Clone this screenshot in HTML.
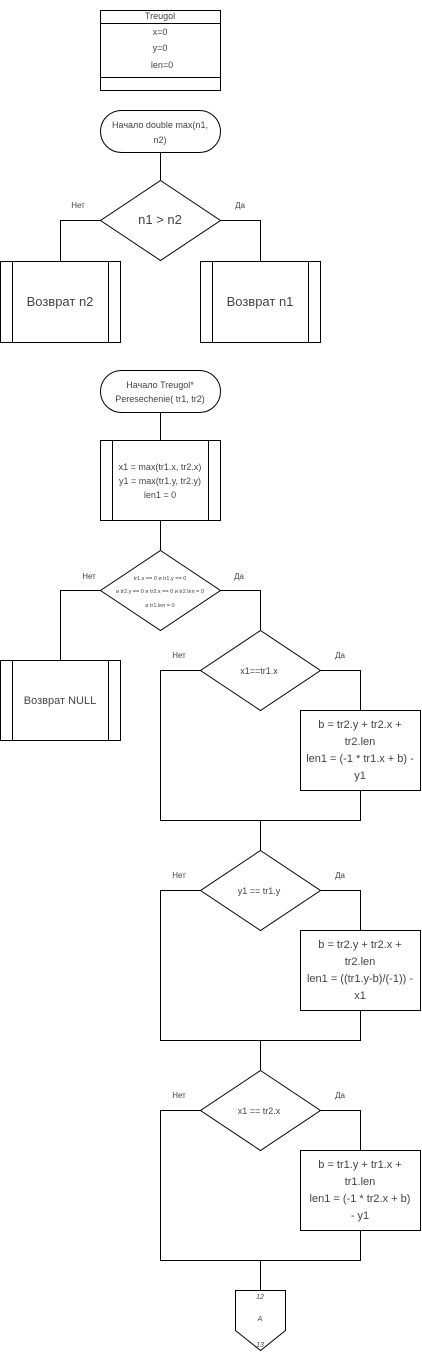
<!DOCTYPE html>
<html><head><meta charset="utf-8"><style>
html,body{margin:0;padding:0;background:#fff;}
svg{display:block;}
text{font-family:"Liberation Sans",sans-serif;fill:#444;text-anchor:middle;}
</style></head><body>
<svg width="422" height="1362" viewBox="0 0 422 1362" xmlns="http://www.w3.org/2000/svg">
<g fill="none" stroke="#000" stroke-width="1">
<!-- Treugol class -->
<rect x="100.5" y="10.5" width="120" height="80"/>
<line x1="100" y1="23.5" x2="220" y2="23.5"/>
<line x1="100" y1="77.5" x2="220" y2="77.5"/>
<!-- terminator 1 -->
<rect x="100.5" y="110.5" width="120" height="42" rx="21"/>
<line x1="160.5" y1="153" x2="160.5" y2="180"/>
<polygon points="160.5,180.5 220.5,220.5 160.5,260.5 100.5,220.5"/>
<polyline points="100.5,220.5 60.5,220.5 60.5,261"/>
<polyline points="220.5,220.5 260.5,220.5 260.5,261"/>
<rect x="0.5" y="261.5" width="120" height="81"/>
<line x1="12.5" y1="261" x2="12.5" y2="342"/><line x1="108.5" y1="261" x2="108.5" y2="342"/>
<rect x="200.5" y="261.5" width="120" height="81"/>
<line x1="212.5" y1="261" x2="212.5" y2="342"/><line x1="308.5" y1="261" x2="308.5" y2="342"/>
<!-- terminator 2 -->
<rect x="100.5" y="370.5" width="120" height="42" rx="21"/>
<line x1="160.5" y1="413" x2="160.5" y2="440"/>
<rect x="100.5" y="440.5" width="120" height="80"/>
<line x1="112.5" y1="440" x2="112.5" y2="520"/><line x1="208.5" y1="440" x2="208.5" y2="520"/>
<line x1="160.5" y1="521" x2="160.5" y2="550"/>
<polygon points="160.5,550.5 220.5,590.5 160.5,630.5 100.5,590.5"/>
<polyline points="100.5,590.5 60.5,590.5 60.5,660"/>
<polyline points="220.5,590.5 260.5,590.5 260.5,630"/>
<rect x="0.5" y="660.5" width="120" height="80"/>
<line x1="12.5" y1="660" x2="12.5" y2="740"/><line x1="108.5" y1="660" x2="108.5" y2="740"/>
<!-- diamond 3 -->
<polygon points="260.5,630.5 320.5,670.5 260.5,710.5 200.5,670.5"/>
<polyline points="200.5,670.5 160.5,670.5 160.5,820.5 360.5,820.5 360.5,790"/>
<polyline points="320.5,670.5 360.5,670.5 360.5,710"/>
<rect x="300.5" y="710.5" width="120" height="80"/>
<line x1="260.5" y1="820" x2="260.5" y2="850"/>
<!-- diamond 4 -->
<polygon points="260.5,850.5 320.5,890.5 260.5,930.5 200.5,890.5"/>
<polyline points="200.5,890.5 160.5,890.5 160.5,1040.5 360.5,1040.5 360.5,1010"/>
<polyline points="320.5,890.5 360.5,890.5 360.5,930"/>
<rect x="300.5" y="930.5" width="120" height="80"/>
<line x1="260.5" y1="1040" x2="260.5" y2="1070"/>
<!-- diamond 5 -->
<polygon points="260.5,1070.5 320.5,1110.5 260.5,1150.5 200.5,1110.5"/>
<polyline points="200.5,1110.5 160.5,1110.5 160.5,1260.5 360.5,1260.5 360.5,1230"/>
<polyline points="320.5,1110.5 360.5,1110.5 360.5,1150"/>
<rect x="300.5" y="1150.5" width="120" height="80"/>
<line x1="260.5" y1="1260" x2="260.5" y2="1290"/>
<polygon points="235.5,1290.5 285.5,1290.5 285.5,1330.5 260.5,1350.5 235.5,1330.5"/>
</g>
<g font-size="9">
<text x="160" y="19">Treugol</text>
<text x="160" y="35">x=0</text>
<text x="160" y="51">y=0</text>
<text x="162" y="68">len=0</text>
<text x="160" y="128">Начало double max(n1,</text>
<text x="160" y="143">n2)</text>
<text x="160" y="388">Начало Treugol*</text>
<text x="160" y="402">Peresechenie( tr1,  tr2)</text>
<text x="160" y="470">x1 = max(tr1.x, tr2.x)</text>
<text x="160" y="484">y1 = max(tr1.y, tr2.y)</text>
<text x="160" y="498">len1 = 0</text>
<text x="259" y="674">x1==tr1.x</text>
<text x="259" y="894">y1 == tr1.y</text>
<text x="259" y="1114">x1 == tr2.x</text>
</g>
<g font-size="8">
<text x="78" y="208">Нет</text><text x="240" y="208">Да</text>
<text x="89" y="579">Нет</text><text x="239" y="579">Да</text>
<text x="179" y="658">Нет</text><text x="340" y="658">Да</text>
<text x="179" y="878">Нет</text><text x="340" y="878">Да</text>
<text x="179" y="1098">Нет</text><text x="340" y="1098">Да</text>
</g>
<g font-size="5.5">
<text x="160" y="580">tr1.x == 0 и tr1.y == 0</text>
<text x="160" y="593">и tr2.y == 0 и tr2.x == 0 и tr2.len = 0</text>
<text x="160" y="607">и tr1.len = 0</text>
</g>
<g font-size="13">
<text x="60" y="306">Возврат n2</text>
<text x="260" y="306">Возврат n1</text>
<text x="160" y="224">n1 &gt; n2</text>
</g>
<text x="60" y="704" font-size="11">Возврат NULL</text>
<g font-size="11">
<text x="360" y="728">b = tr2.y + tr2.x +</text>
<text x="360" y="745">tr2.len</text>
<text x="360" y="762">len1 = (-1 * tr1.x + b) -</text>
<text x="360" y="779">y1</text>
<text x="360" y="948">b = tr2.y + tr2.x +</text>
<text x="360" y="965">tr2.len</text>
<text x="360" y="982">len1 = ((tr1.y-b)/(-1)) -</text>
<text x="360" y="999">x1</text>
<text x="360" y="1168">b = tr1.y + tr1.x +</text>
<text x="360" y="1185">tr1.len</text>
<text x="360" y="1202">len1 = (-1 * tr2.x + b)</text>
<text x="360" y="1219">- y1</text>
</g>
<g font-size="7" font-style="italic">
<text x="260" y="1299">12</text>
<text x="260" y="1321">A</text>
<text x="260" y="1347">13</text>
</g>
</svg>
</body></html>
